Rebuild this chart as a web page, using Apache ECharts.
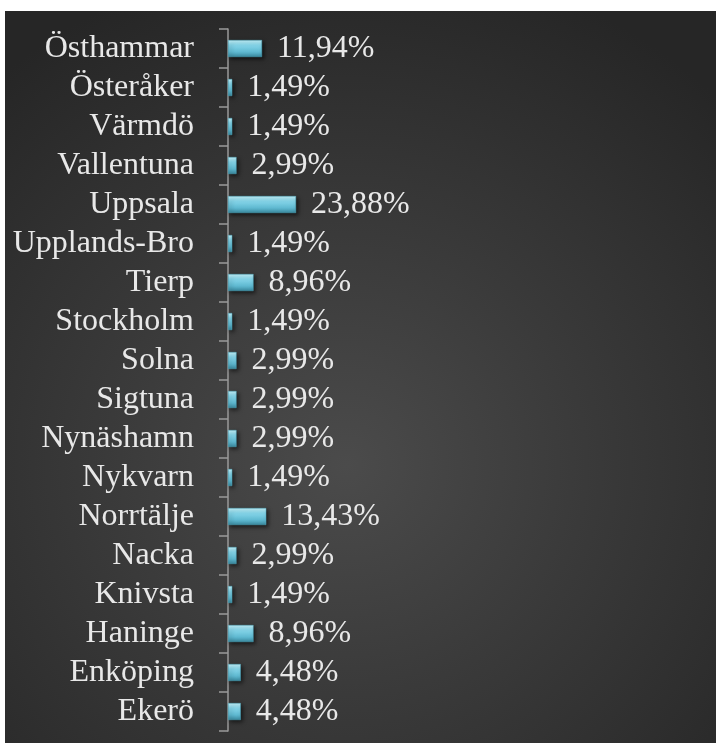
<!DOCTYPE html>
<html>
<head>
<meta charset="utf-8">
<script src="https://cdn.jsdelivr.net/npm/echarts@6/dist/echarts.min.js"></script>
<style>
  html, body { margin: 0; padding: 0; background: #ffffff; }
  #chart {
    position: absolute; left: 5px; top: 11px; width: 711px; height: 732px;
    background: radial-gradient(ellipse 75% 70% at 48% 62%, #4b4b4b 0%, #3a3a3a 45%, #262626 100%);
  }
</style>
</head>
<body>
<div id="chart"></div>
<script>
// Share per municipality, top to bottom
var categories = ['Östhammar', 'Österåker', 'Värmdö', 'Vallentuna', 'Uppsala', 'Upplands-Bro',
  'Tierp', 'Stockholm', 'Solna', 'Sigtuna', 'Nynäshamn', 'Nykvarn', 'Norrtälje', 'Nacka',
  'Knivsta', 'Haninge', 'Enköping', 'Ekerö'];
var shares = [11.94, 1.49, 1.49, 2.99, 23.88, 1.49, 8.96, 1.49, 2.99, 2.99, 2.99, 1.49,
  13.43, 2.99, 1.49, 8.96, 4.48, 4.48];

(function() {
  var ink = '#e8e8e8';
  var font = '"Liberation Serif", "Times New Roman", serif';

  var chart = echarts.init(document.getElementById('chart'), null, { renderer: 'canvas' });
  chart.setOption({
    animation: false,
    backgroundColor: 'transparent',
    grid: { left: 223, top: 18, width: 285, height: 702 },
    xAxis: {
      type: 'value',
      min: 0,
      max: 100,
      show: false
    },
    yAxis: {
      type: 'category',
      data: categories,
      inverse: true,
      axisLine: { show: true, lineStyle: { color: '#9a9a9a', width: 1.5 } },
      axisTick: { show: true, length: 9, lineStyle: { color: '#9a9a9a', width: 1.5 } },
      axisLabel: {
        interval: 0, color: ink, fontFamily: font, fontSize: 32, margin: 34,
        padding: [6, 0, 0, 0]
      },
      splitLine: { show: false }
    },
    series: [{
      type: 'bar',
      data: shares,
      barWidth: 17,
      itemStyle: {
        color: new echarts.graphic.LinearGradient(0, 0, 0, 1, [
          { offset: 0, color: '#c4f3fc' },
          { offset: 0.3, color: '#86d6ea' },
          { offset: 0.7, color: '#5fb9d1' },
          { offset: 1, color: '#3a8aa0' }
        ]),
        borderColor: '#4fa8bf',
        borderWidth: 0.5,
        shadowColor: 'rgba(0,0,0,0.6)',
        shadowBlur: 4,
        shadowOffsetX: 2,
        shadowOffsetY: 2
      },
      label: {
        show: true,
        position: 'right',
        distance: 15,
        color: ink,
        fontFamily: font,
        fontSize: 32,
        padding: [6, 0, 0, 0],
        formatter: function(p) { return p.value.toFixed(2).replace('.', ',') + '%'; }
      }
    }]
  });
})();
</script>
</body>
</html>
